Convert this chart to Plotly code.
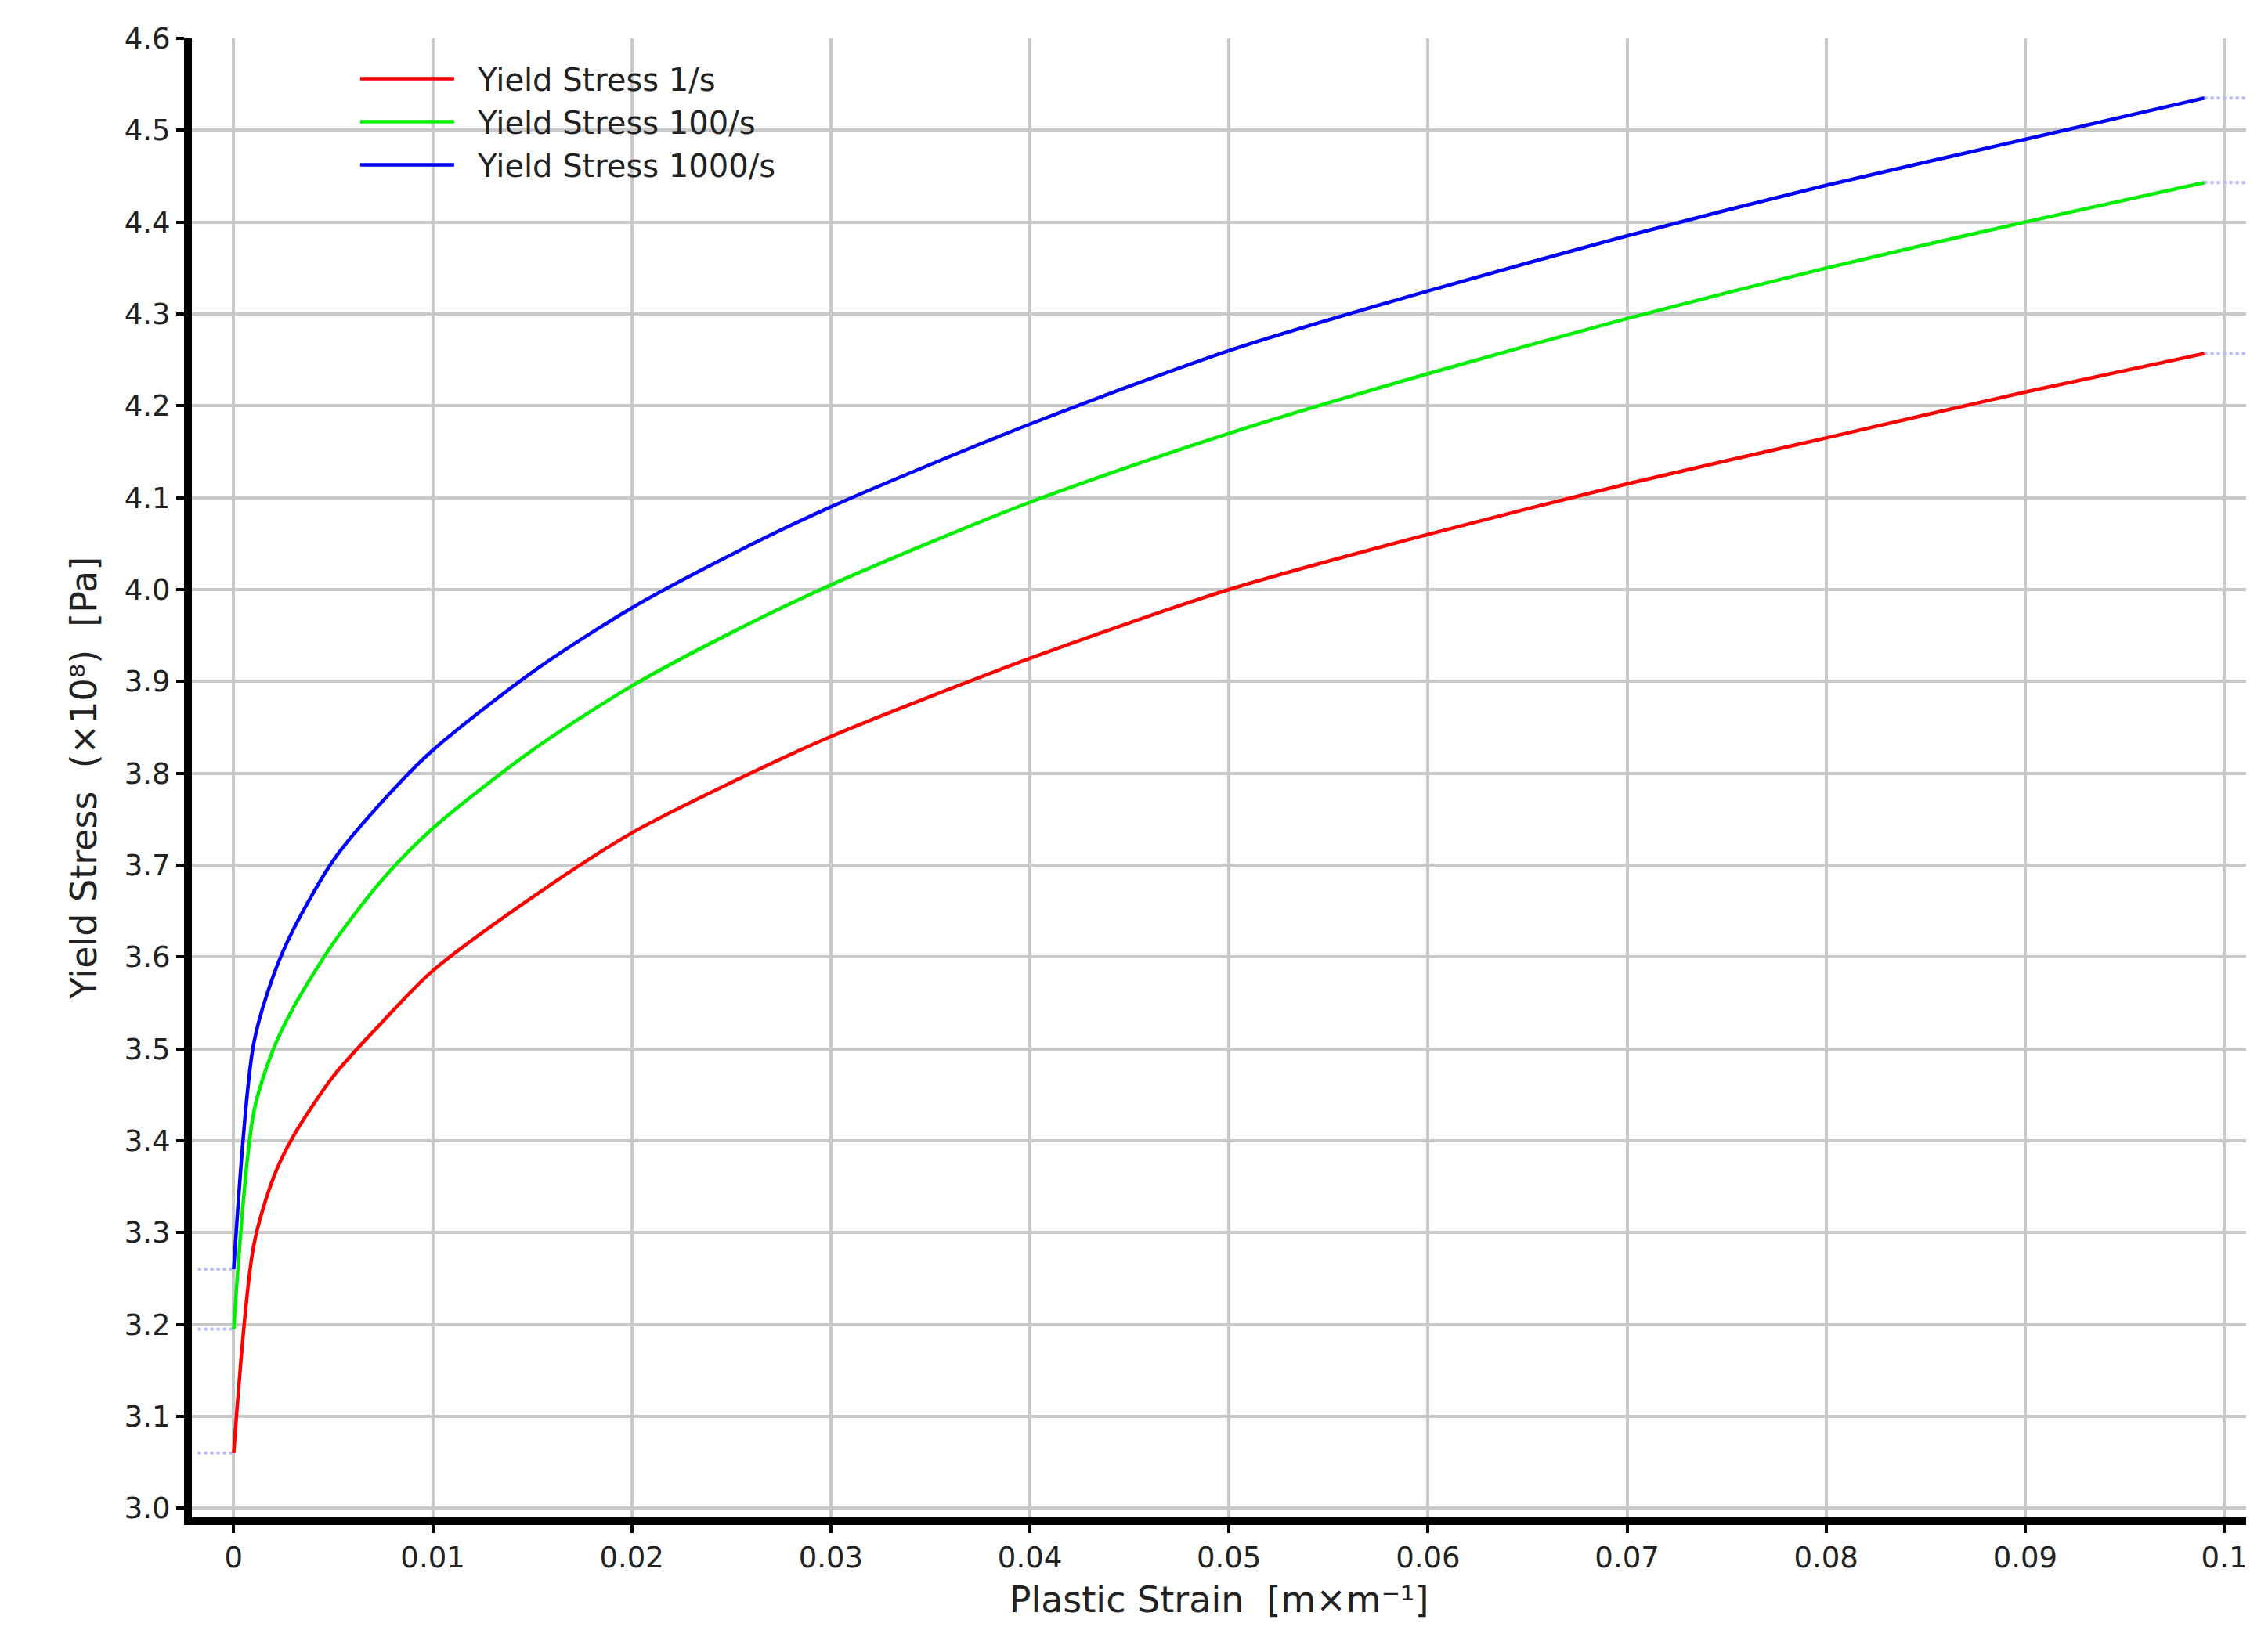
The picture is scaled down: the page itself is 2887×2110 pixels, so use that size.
import plotly.graph_objects as go

strain = [0, 0.001, 0.002, 0.003, 0.005, 0.0075, 0.01, 0.015, 0.02, 0.025, 0.03, 0.04, 0.05, 0.06, 0.07, 0.08, 0.09, 0.099]
ys_1 = [3.06, 3.285, 3.36, 3.405, 3.47, 3.53, 3.585, 3.665, 3.735, 3.79, 3.84, 3.925, 4.0, 4.06, 4.115, 4.165, 4.215, 4.257]
ys_100 = [3.195, 3.43, 3.5, 3.545, 3.615, 3.685, 3.74, 3.825, 3.895, 3.953, 4.005, 4.095, 4.17, 4.235, 4.295, 4.35, 4.4, 4.443]
ys_1000 = [3.26, 3.505, 3.58, 3.63, 3.705, 3.77, 3.825, 3.91, 3.98, 4.038, 4.09, 4.18, 4.26, 4.325, 4.385, 4.44, 4.49, 4.535]
names = ["Yield Stress 1/s", "Yield Stress 100/s", "Yield Stress 1000/s"]
colors = ["#ff0000", "#00ee00", "#0000ff"]
series = [ys_1, ys_100, ys_1000]
xticks = [0, 0.01, 0.02, 0.03, 0.04, 0.05, 0.06, 0.07, 0.08, 0.09, 0.1]
xticklabels = ["0", "0.01", "0.02", "0.03", "0.04", "0.05", "0.06", "0.07", "0.08", "0.09", "0.1"]
yticks = [3.0, 3.1, 3.2, 3.3, 3.4, 3.5, 3.6, 3.7, 3.8, 3.9, 4.0, 4.1, 4.2, 4.3, 4.4, 4.5, 4.6]

fig = go.Figure()
for ys in series:
    fig.add_trace(go.Scatter(x=[-0.0018, strain[0]], y=[ys[0], ys[0]], mode="lines",
                             line=dict(color="#b8b8ff", width=4, dash="dot"), showlegend=False, hoverinfo="skip"))
    fig.add_trace(go.Scatter(x=[strain[-1], 0.1011], y=[ys[-1], ys[-1]], mode="lines",
                             line=dict(color="#b8b8ff", width=4, dash="dot"), showlegend=False, hoverinfo="skip"))
for name, c, ys in zip(names, colors, series):
    fig.add_trace(go.Scatter(x=strain, y=ys, mode="lines", name="  " + name,
                             line=dict(color=c, width=4.5, shape="spline", smoothing=0.8)))

fig.update_layout(
    width=2887, height=2110, plot_bgcolor="white", paper_bgcolor="white",
    margin=dict(l=237, r=27, t=41, b=180),
    font=dict(family="DejaVu Sans", color="#222", size=37),
    legend=dict(x=0.08, y=0.99, xanchor="left", yanchor="top", bgcolor="rgba(0,0,0,0)",
                font=dict(size=40), itemwidth=120, tracegroupgap=12),
    xaxis=dict(range=[-0.0021, 0.1011], tickvals=xticks, ticktext=xticklabels,
               showgrid=True, gridcolor="#c8c8c8", gridwidth=4, zeroline=False,
               showline=True, linecolor="black", linewidth=10, ticks="outside", ticklen=10, tickwidth=4,
               tickcolor="black", title=dict(text="Plastic Strain  [m×m⁻¹]", font=dict(size=46), standoff=20)),
    yaxis=dict(range=[2.99, 4.6], tickvals=yticks, tickformat=".1f",
               showgrid=True, gridcolor="#c8c8c8", gridwidth=4, zeroline=False,
               showline=True, linecolor="black", linewidth=10, ticks="outside", ticklen=10, tickwidth=4,
               tickcolor="black", title=dict(text="Yield Stress  (×10⁸)  [Pa]", font=dict(size=46), standoff=25)),
)
fig.write_html("out.html")
